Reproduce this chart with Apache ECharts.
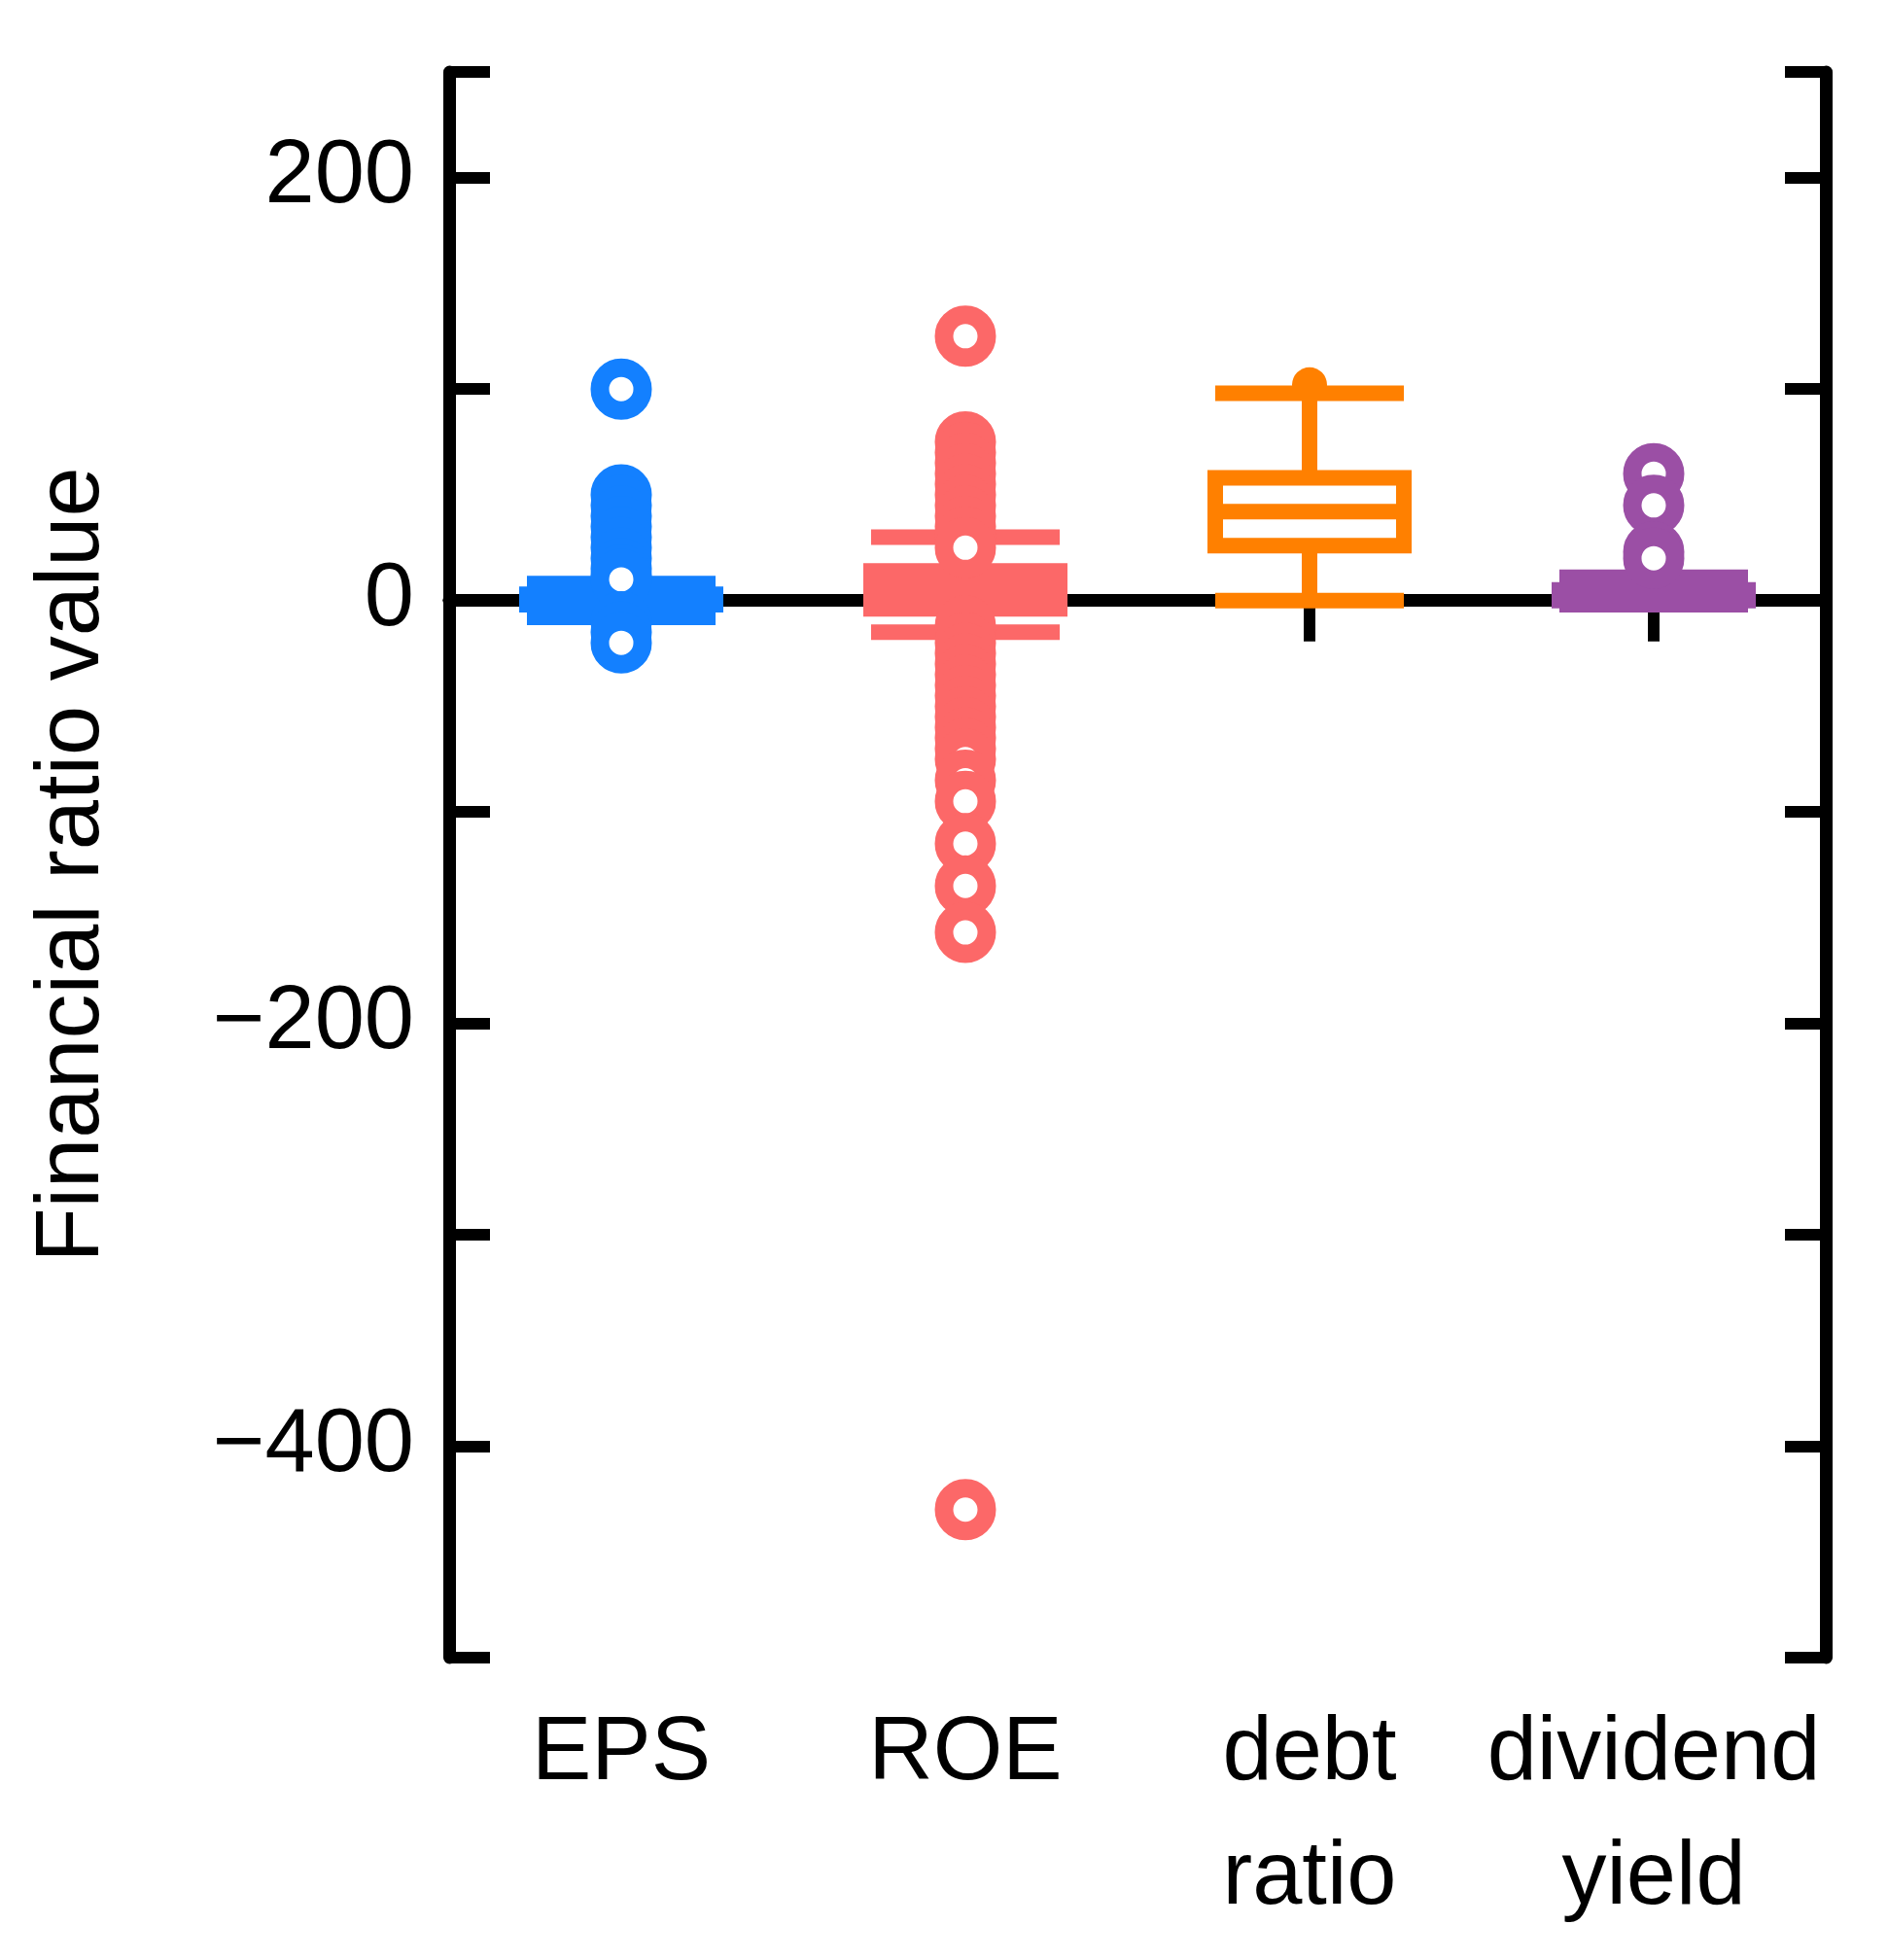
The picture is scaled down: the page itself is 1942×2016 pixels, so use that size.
<!DOCTYPE html>
<html><head><meta charset="utf-8">
<script src="https://cdn.jsdelivr.net/npm/echarts@6/dist/echarts.min.js"></script>
<style>html,body{margin:0;padding:0;background:#fff}#c{width:1942px;height:2016px}</style>
</head><body><div id="c"></div>
<script>
const categories = ['EPS', 'ROE', 'debt\nratio', 'dividend\nyield'];
const colors = ['#1380FF', '#FC6868', '#FF8000', '#9B4FA5'];
// [min, Q1, median, Q3, max]
const boxStats = [
  [-8, -2, 1, 3, 8],
  [-15, -4, 5, 14, 30],
  [0, 26, 42, 58, 98],
  [-2, 0, 2, 5, 11]
];
const epsOutliers = [100, 50, 45, 40, 35, 30, 25, 20, 15, 12, 10, -10, -15, -20];
const roeOutliers = [125, 75, 70, 65, 60, 55, 50, 45, 40, 35, 30, 25, -12, -20, -25, -30, -35, -40, -45, -50, -55, -60, -65, -70, -75, -85, -95, -115, -135, -157, -430];
const debtOutliers = [102];
const divOutliers = [60, 45, 23, 20];
const yTickLabels = {'200':'200','0':'0','-200':'\u2212200','-400':'\u2212400'};

const chart = echarts.init(document.getElementById('c'));
const font = 'Liberation Sans, Arial, sans-serif';
const lineS = {show:true, lineStyle:{width:13, color:'#000'}};
const tickS = {show:true, inside:true, length:42, lineStyle:{width:12, color:'#000'}};
const yCommon = {
  type:'value', min:-500, max:250, interval:100,
  axisLine:lineS, splitLine:{show:false}, axisTick:tickS
};
const outl = [epsOutliers, roeOutliers, debtOutliers, divOutliers];
const scatterSeries = outl.map((arr, i) => ({
  type:'scatter', xAxisIndex:0, yAxisIndex:0,
  data: arr.map(v => [i, v]),
  symbol:'circle', symbolSize: i===2 ? 36 : 44,
  itemStyle: i===2 ? {color:colors[i], opacity:1} : {color:'#fff', borderColor:colors[i], borderWidth:19, opacity:1},
  z: 3
}));
chart.setOption({
  animation:false,
  grid:{left:462, right:64, top:74, bottom:311, containLabel:false},
  xAxis:[
    {type:'category', data:categories, position:'bottom',
     axisLine:lineS, splitLine:{show:false},
     axisTick:Object.assign({alignWithLabel:true}, tickS),
     axisLabel:{interval:0, fontFamily:font, fontSize:92, color:'#000', margin:36, lineHeight:128}},
    {type:'category', data:categories, position:'top',
     axisLine:lineS, axisLabel:{show:false},
     axisTick:Object.assign({alignWithLabel:true}, tickS)}
  ],
  yAxis:[
    Object.assign({}, yCommon, {position:'left',
      name:'Financial ratio value', nameLocation:'middle', nameGap:340, nameRotate:90,
      nameTextStyle:{fontFamily:font, fontSize:92, color:'#000'},
      axisLabel:{fontFamily:font, fontSize:92, color:'#000', margin:36,
        formatter: v => yTickLabels[String(v)] || ''}}),
    Object.assign({}, yCommon, {position:'right', axisLabel:{show:false}})
  ],
  series:[
    {type:'boxplot', xAxisIndex:0, yAxisIndex:0, boxWidth:[194,194],
     data: boxStats.map((s, i) => ({value:s,
       itemStyle:{color: i===2 ? '#fff' : colors[i], borderColor:colors[i], borderWidth:16, opacity:1}})),
     z:2}
  ].concat(scatterSeries)
});
</script></body></html>
